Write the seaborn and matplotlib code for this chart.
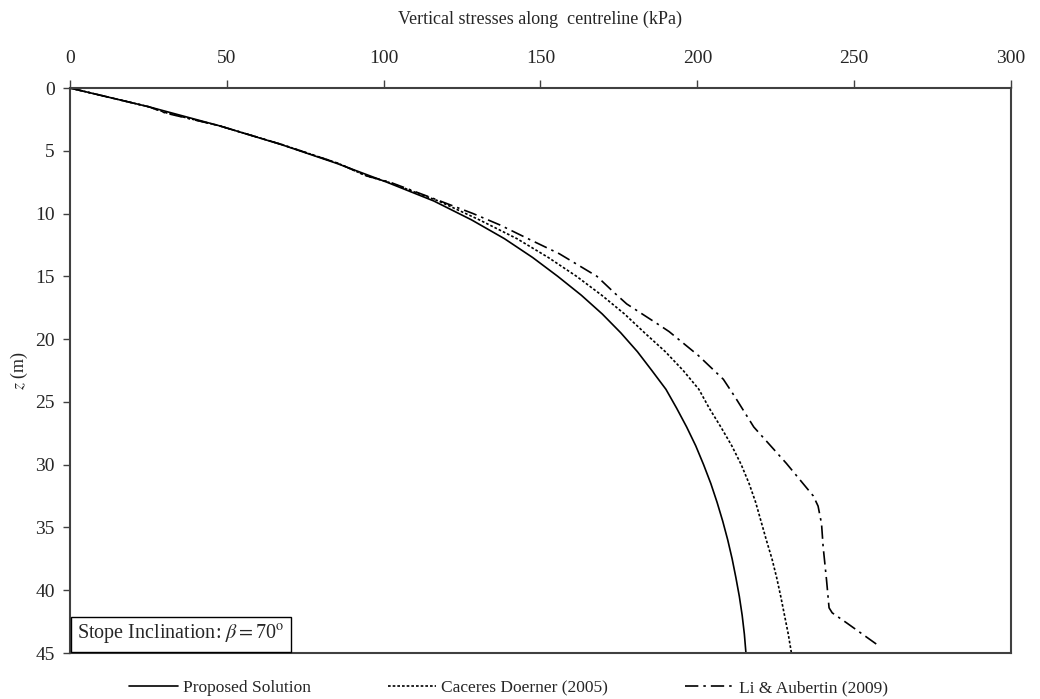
import matplotlib
matplotlib.use("Agg")
import matplotlib.pyplot as plt
import seaborn as sns

# Depth below the top of the fill (m) and vertical stress along the centreline (kPa)
z_proposed = [0, 1.5, 3, 4.5, 6, 7.5, 9, 10.5, 12, 13.5, 15, 16.5, 18, 19.5, 21,
              22.5, 24, 25.5, 27, 28.5, 30, 31.5, 33, 34.5, 36, 37.5, 39, 40.5,
              42, 43.5, 45]
s_proposed = [0, 25.2, 47.5, 67.3, 85, 101, 116, 128, 138.5, 147.5, 155.5, 163,
              169.7, 175.6, 180.9, 185.5, 190, 193.4, 196.6, 199.5, 202, 204.3,
              206.3, 208.1, 209.7, 211.1, 212.3, 213.4, 214.3, 215, 215.5]

z_caceres = [0, 1.5, 2.0, 3, 4.5, 6, 7, 7.5, 9, 10.5, 12, 13.5, 15, 16.5, 18,
             19.5, 21, 22.5, 24, 25.5, 27, 28.5, 30, 31.5, 33, 34.5, 36, 37.5,
             39, 40.5, 42, 43.5, 45]
s_caceres = [0, 25.2, 31, 47.5, 67.5, 85.5, 94.5, 101.5, 117.5, 130.5, 142.5,
             152.5, 161.5, 169.5, 176.8, 183.2, 189.8, 195.5, 200.5, 203.8, 207.5,
             211, 214, 216.5, 218.6, 220.3, 222, 223.8, 225.3, 226.6, 227.8, 229,
             230]

z_li = [0, 1.5, 2.0, 3, 4.5, 6, 7.0, 7.5, 9, 10.0, 10.9, 12.0, 13.2, 15.0, 16.3,
        17.2, 18.9, 19.4, 21.3, 23.2, 24.6, 27.0, 29.9, 32.5, 33.3, 34.7, 36.5,
        39.2, 41.4, 41.8, 42.6, 44.4]
s_li = [0, 25.2, 30.5, 47.5, 67.5, 85.5, 94.5, 102, 118, 128.5, 137, 146, 156,
        168, 173.5, 177.5, 188, 191, 200.3, 208.3, 212, 218, 228.4, 237, 238.5,
        239.6, 240.1, 241.2, 242, 243, 247.6, 257.7]

series_names = ["Proposed Solution", "Caceres Doerner (2005)", "Li & Aubertin (2009)"]
x_ticks = [0, 50, 100, 150, 200, 250, 300]
y_ticks = [0, 5, 10, 15, 20, 25, 30, 35, 40, 45]

sns.set_theme(style="white")
plt.rcParams["font.family"] = ["Liberation Serif", "DejaVu Serif"]
plt.rcParams["mathtext.fontset"] = "stix"

fig = plt.figure(figsize=(10.4, 6.99), dpi=100)
ax = fig.add_axes([0.0673, 0.0658, 0.9048, 0.8083])

line_styles = ["-", (0, (1.6, 1.2)), (0, (8, 3, 1.5, 3))]
for (s, z), name, ls in zip([(s_proposed, z_proposed), (s_caceres, z_caceres), (s_li, z_li)],
                            series_names, line_styles):
    sns.lineplot(x=s, y=z, ax=ax, sort=False, estimator=None, color="black",
                 linewidth=1.2, linestyle=ls, label=name)

ax.set_xlim(0, 300)
ax.set_ylim(45, 0)
ax.set_xticks(x_ticks)
ax.set_yticks(y_ticks)
ax.xaxis.tick_top()
ax.xaxis.set_label_position("top")
ax.tick_params(axis="x", direction="out", length=6, width=1, color="#404040",
               labelsize=14, pad=9)
ax.tick_params(axis="y", direction="out", length=5, width=1, color="#404040",
               labelsize=14, pad=6, left=True)
ax.set_xlabel("Vertical stresses along  centreline (kPa)", fontsize=13, labelpad=19)
ax.set_ylabel(r"$z$ (m)", fontsize=13, labelpad=4)

for sp in ax.spines.values():
    sp.set_color("#404040")
    sp.set_linewidth(1.5)

ax.text(0.0075, 0.012, r"Stope Inclination: $\beta = $70$^{\rm o}$",
        transform=ax.transAxes, fontsize=14.5, ha="left", va="bottom",
        bbox=dict(boxstyle="square,pad=0.3", fc="white", ec="black", lw=1))

ax.legend(loc="center", bbox_to_anchor=(0.466, -0.062), ncol=3, frameon=False,
          fontsize=12.5, handlelength=2.8, columnspacing=4.4, handletextpad=0.3)

fig.savefig("out.png", dpi=100)
